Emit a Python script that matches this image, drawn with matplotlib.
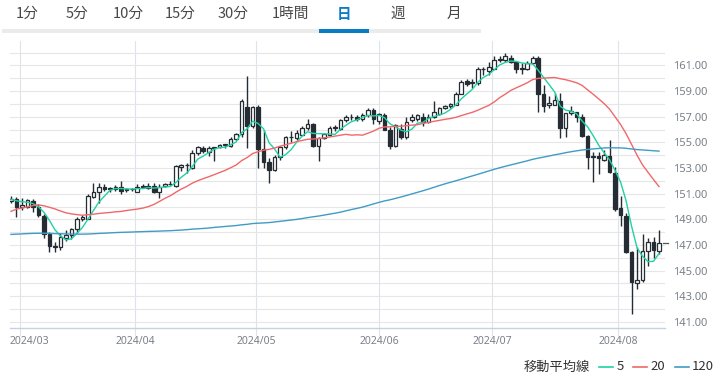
import numpy as np
import pandas as pd
import matplotlib
matplotlib.use("Agg")
import matplotlib.pyplot as plt
from matplotlib.lines import Line2D
from matplotlib.patches import Rectangle

CJK = ["Noto Sans CJK JP", "DejaVu Sans"]
plt.rcParams["font.family"] = CJK

# ---------------- data ----------------
# closes before the visible window (Sep 14 2023 .. Feb 27 2024), used for the moving averages
prior_closes = [
    147.45, 147.85, 147.60, 147.85, 148.35, 147.55, 148.35, 148.85, 149.05, 149.60, 149.30, 149.35,
    149.85, 149.05, 149.00, 148.50, 149.30, 148.50, 148.75, 149.15, 149.80, 149.55, 149.55, 149.80,
    149.80, 149.80, 149.85, 149.70, 149.90, 150.20, 150.35, 149.65, 149.05, 151.65,
    150.95, 150.45, 149.35, 150.00, 150.40, 150.95, 151.35, 151.50, 151.65, 150.40, 151.35, 150.70,
    149.60, 148.35, 148.40, 149.55, 149.50, 149.45, 148.70, 147.45, 147.25, 148.20,
    146.80, 147.20, 147.20, 147.30, 144.10, 144.95, 146.20, 145.45, 142.90, 141.90, 142.15, 142.80,
    143.90, 143.55, 142.15, 142.40, 142.40, 142.45, 141.80, 141.40, 141.00,
    140.95, 142.00, 143.30, 144.60, 144.60, 144.25, 144.45, 145.70, 145.30, 144.90, 145.75, 147.20,
    148.15, 148.15, 148.10, 148.10, 148.35, 147.50, 147.65, 148.15, 147.50, 147.60, 146.90,
    146.45, 148.40, 148.70, 147.95, 148.20, 149.30, 149.30, 149.35, 150.80, 150.60, 149.95, 150.20,
    150.10, 150.00, 150.30, 150.50, 150.50, 150.70, 150.50,
]

opens = [
    150.45, 150.60, 149.95, 149.95, 150.45, 150.00, 149.25, 147.85, 146.95, 146.85,
    147.55, 147.75, 148.25, 149.05, 149.05, 150.75, 151.15, 151.55, 151.35, 151.35,
    151.50, 151.30, 151.37, 151.15, 151.55, 151.48, 151.60, 151.15, 151.62, 151.75,
    151.60, 153.10, 153.20, 153.00, 154.20, 154.55, 154.25, 154.55, 154.60, 154.80,
    154.70, 155.30, 155.62, 157.75, 156.30, 157.75, 154.50, 153.50, 152.85, 153.85,
    154.60, 155.40, 155.35, 155.60, 156.10, 156.40, 154.75, 155.35, 155.60, 156.15,
    156.05, 156.75, 156.95, 157.00, 156.80, 157.15, 157.55, 156.65, 157.10, 156.00,
    154.70, 156.05, 155.40, 156.75, 156.85, 157.00, 156.60, 156.95, 157.20, 157.65,
    157.80, 157.95, 158.80, 159.75, 159.70, 159.60, 160.75, 160.60, 160.75, 161.40,
    161.45, 161.60, 161.25, 160.75, 160.75, 161.20, 161.60, 158.80, 157.90, 157.95,
    158.25, 156.10, 157.30, 157.35, 157.00, 155.50, 153.95, 153.90, 153.65, 153.95,
    152.65, 149.85, 149.25, 146.45, 144.05, 144.25, 146.50, 147.20, 146.55,
]
highs = [
    150.85, 150.75, 150.65, 150.55, 150.55, 150.20, 149.40, 148.05, 147.20, 147.90,
    148.15, 148.35, 149.15, 149.35, 150.95, 151.80, 151.85, 151.75, 151.55, 151.65,
    151.95, 151.45, 151.43, 151.75, 151.75, 151.80, 151.80, 151.75, 151.85, 151.95,
    153.25, 153.30, 153.40, 154.40, 154.75, 154.70, 154.70, 154.65, 154.88, 154.90,
    155.40, 155.75, 158.40, 160.15, 157.85, 157.95, 156.00, 153.80, 154.00, 154.70,
    155.50, 155.90, 155.95, 156.25, 156.80, 156.50, 155.45, 155.75, 156.25, 156.35,
    156.80, 157.15, 157.20, 157.10, 157.30, 157.70, 157.70, 157.30, 157.25, 156.20,
    156.45, 156.45, 157.00, 157.20, 157.20, 157.25, 157.20, 158.25, 157.75, 157.90,
    158.10, 158.90, 159.85, 159.90, 159.90, 160.85, 160.90, 161.30, 161.70, 161.75,
    161.95, 161.80, 161.35, 161.20, 161.35, 161.75, 161.70, 159.45, 158.60, 158.85,
    158.85, 157.30, 157.85, 157.40, 157.20, 155.60, 154.25, 154.25, 154.40, 155.15,
    153.10, 150.85, 149.50, 146.55, 146.85, 147.85, 147.55, 147.65, 148.20,
]
lows = [
    150.30, 149.15, 149.70, 149.85, 149.60, 149.20, 147.55, 146.45, 146.45, 146.60,
    147.30, 147.45, 147.95, 148.90, 149.00, 150.65, 150.25, 151.20, 151.15, 151.20,
    151.00, 151.15, 151.20, 151.10, 151.45, 151.40, 151.05, 150.70, 151.55, 151.65,
    151.55, 152.75, 152.60, 152.90, 154.05, 154.15, 153.90, 153.55, 154.55, 154.55,
    154.65, 155.15, 155.40, 154.55, 156.10, 153.00, 153.00, 151.85, 152.75, 153.60,
    154.50, 155.00, 155.20, 155.55, 156.00, 154.65, 153.55, 155.25, 155.50, 155.85,
    155.95, 156.60, 156.75, 156.65, 156.70, 157.00, 156.40, 156.40, 155.95, 154.50,
    154.60, 155.30, 155.30, 156.60, 156.70, 156.30, 156.50, 156.90, 157.10, 157.60,
    157.70, 157.90, 158.75, 159.40, 159.25, 159.50, 160.25, 160.25, 160.70, 161.25,
    161.30, 161.15, 160.40, 160.30, 160.65, 161.10, 157.40, 157.40, 157.70, 157.95,
    155.35, 155.40, 157.15, 156.60, 155.45, 152.90, 151.90, 152.55, 153.55, 152.60,
    149.65, 148.50, 146.40, 141.65, 143.55, 144.15, 145.40, 146.00, 146.30,
]
closes = [
    150.60, 149.95, 150.10, 150.50, 150.00, 149.30, 147.85, 146.95, 146.85, 147.60,
    147.75, 148.25, 149.05, 149.15, 150.80, 151.15, 151.55, 151.35, 151.42, 151.50,
    151.20, 151.37, 151.33, 151.55, 151.52, 151.62, 151.15, 151.55, 151.75, 151.72,
    153.15, 153.20, 153.25, 154.20, 154.65, 154.35, 154.55, 154.60, 154.80, 154.82,
    155.30, 155.62, 158.25, 156.30, 157.75, 154.45, 153.50, 152.85, 153.85, 154.60,
    155.40, 155.45, 155.75, 156.15, 156.40, 154.75, 155.35, 155.65, 156.15, 156.20,
    156.75, 156.95, 157.00, 156.85, 157.15, 157.50, 156.80, 157.20, 156.00, 154.75,
    156.35, 155.45, 156.60, 157.00, 157.10, 156.60, 157.00, 157.35, 157.65, 157.80,
    158.00, 158.80, 159.70, 159.55, 159.60, 160.75, 160.70, 160.85, 161.40, 161.50,
    161.70, 161.25, 160.70, 160.80, 161.20, 161.60, 158.80, 157.85, 158.05, 158.30,
    156.10, 157.25, 157.45, 157.00, 155.50, 153.85, 153.85, 153.75, 154.00, 152.70,
    149.80, 149.30, 146.45, 144.10, 144.25, 146.50, 147.20, 146.60, 147.15,
]

ma_periods = [5, 20, 120]
ma_labels = ["5", "20", "120"]
y_tick_values = list(range(141, 162, 2))
tab_labels = ["1分", "5分", "10分", "15分", "30分", "1時間", "日", "週", "月"]
legend_title = "移動平均線"

# ---------------- derived ----------------
dates = pd.bdate_range("2024-02-28", "2024-08-12")
prior_dates = pd.bdate_range("2023-09-14", "2024-02-27")
o = np.array(opens); h = np.array(highs); l = np.array(lows); c = np.array(closes)
n = len(c)
x = np.arange(n)
all_close = pd.Series(prior_closes + closes, index=prior_dates.append(dates))
mas = [all_close.rolling(p).mean().iloc[-n:].values for p in ma_periods]

# ---------------- style ----------------
W, H = 720, 381
DARK = "#252c33"
MA_COLORS = ["#21d1a4", "#f0686a", "#3f9cc4"]
GRID = "#e6e6e6"
VGRID = "#dde3ea"
TXT = "#7b8089"

fig = plt.figure(figsize=(W / 100, H / 100), dpi=100)
fig.patch.set_facecolor("white")
ax = fig.add_axes([10 / W, (H - 328) / H, 655 / W, 287 / H])

# candles
ax.vlines(x, l, h, color=DARK, lw=1.0, zorder=3)
up = c >= o
bot = np.minimum(o, c)
hgt = np.maximum(np.abs(c - o), 0.05)
ax.bar(x[up], hgt[up], bottom=bot[up], width=0.66, facecolor="white",
       edgecolor=DARK, linewidth=0.9, zorder=4)
ax.bar(x[~up], hgt[~up], bottom=bot[~up], width=0.66, facecolor=DARK,
       edgecolor=DARK, linewidth=0.9, zorder=4)

# moving averages
for m, col in zip(mas, MA_COLORS):
    ax.plot(x, m, color=col, lw=1.0, zorder=5)

# last price dash
ax.plot([118.8, 119.7], [c[-1], c[-1]], color="#555", lw=0.9, clip_on=False, zorder=6)

# axes limits
ax.set_xlim(-0.18, 119.09)
ax.set_ylim(140.53, 162.9)

# y grid + labels on right
ax.yaxis.tick_right()
ax.set_yticks(y_tick_values)
ax.set_yticklabels([f"{v:.2f}" for v in y_tick_values], color=TXT, fontsize=8,
                   family=["Noto Sans", "DejaVu Sans"])
ax.set_yticks(range(141, 163), minor=True)
ax.tick_params(axis="y", which="both", length=0, pad=5.5)
ax.grid(axis="y", which="both", color=GRID, lw=0.8, zorder=0)

# month gridlines
month_pos, month_lab = [], []
for mth in pd.date_range("2024-03-01", "2024-08-01", freq="MS"):
    idx = int(np.searchsorted(dates, mth))
    pos = idx - 0.4 if mth.weekday() < 5 else idx - 1.0
    month_pos.append(pos)
    month_lab.append(mth.strftime("%Y/%m"))
ax.set_xticks(month_pos)
ax.set_xticklabels([""] * len(month_pos))
ax.tick_params(axis="x", length=6, color=VGRID, width=0.8)
ax.grid(axis="x", color=VGRID, lw=0.8, zorder=0)
trans = ax.get_xaxis_transform()
for i, (p, lab) in enumerate(zip(month_pos, month_lab)):
    if i == 0:
        ax.text(ax.get_xlim()[0], -13 / 287, lab, transform=trans, ha="left", va="center",
                fontsize=7.5, color=TXT, family=["Noto Sans", "DejaVu Sans"])
    else:
        ax.text(p, -13 / 287, lab, transform=trans, ha="center", va="center",
                fontsize=7.5, color=TXT, family=["Noto Sans", "DejaVu Sans"])

for s in ["top", "left", "right"]:
    ax.spines[s].set_visible(False)
ax.spines["bottom"].set_color("#c6d2e3")
ax.spines["bottom"].set_linewidth(1.0)

# ---------------- tabs ----------------
tab_centers = [27, 77, 128, 180, 233, 290, 344, 398, 454]
for lab, cx in zip(tab_labels, tab_centers):
    sel = lab == "日"
    fig.text(cx / W, 1 - 14 / H, lab, ha="center", va="center", fontsize=10.5,
             color="#0b7cc4" if sel else "#474747", family=CJK,
             fontweight="bold" if sel else "normal")
fig.add_artist(Rectangle((2 / W, 1 - 32.7 / H), 479 / W, 3.3 / H,
                         transform=fig.transFigure, color="#ebebeb", lw=0))
fig.add_artist(Rectangle((319 / W, 1 - 32.7 / H), 50 / W, 3.3 / H,
                         transform=fig.transFigure, color="#0b7cc4", lw=0))

# ---------------- legend ----------------
ly = 1 - 367 / H
fig.text(524 / W, ly, legend_title, ha="left", va="center", fontsize=9.5,
         color="#333333", family=CJK)
leg_line_x = [599, 633, 675]
leg_text_x = [617, 650, 692]
for lx, tx, col, lab in zip(leg_line_x, leg_text_x, MA_COLORS, ma_labels):
    fig.add_artist(Line2D([lx / W, (lx + 14) / W], [ly, ly], color=col, lw=1.2,
                          transform=fig.transFigure))
    fig.text(tx / W, ly, lab, ha="left", va="center", fontsize=9.5,
             color="#333333", family=CJK)

fig.savefig("out.png", dpi=100)
